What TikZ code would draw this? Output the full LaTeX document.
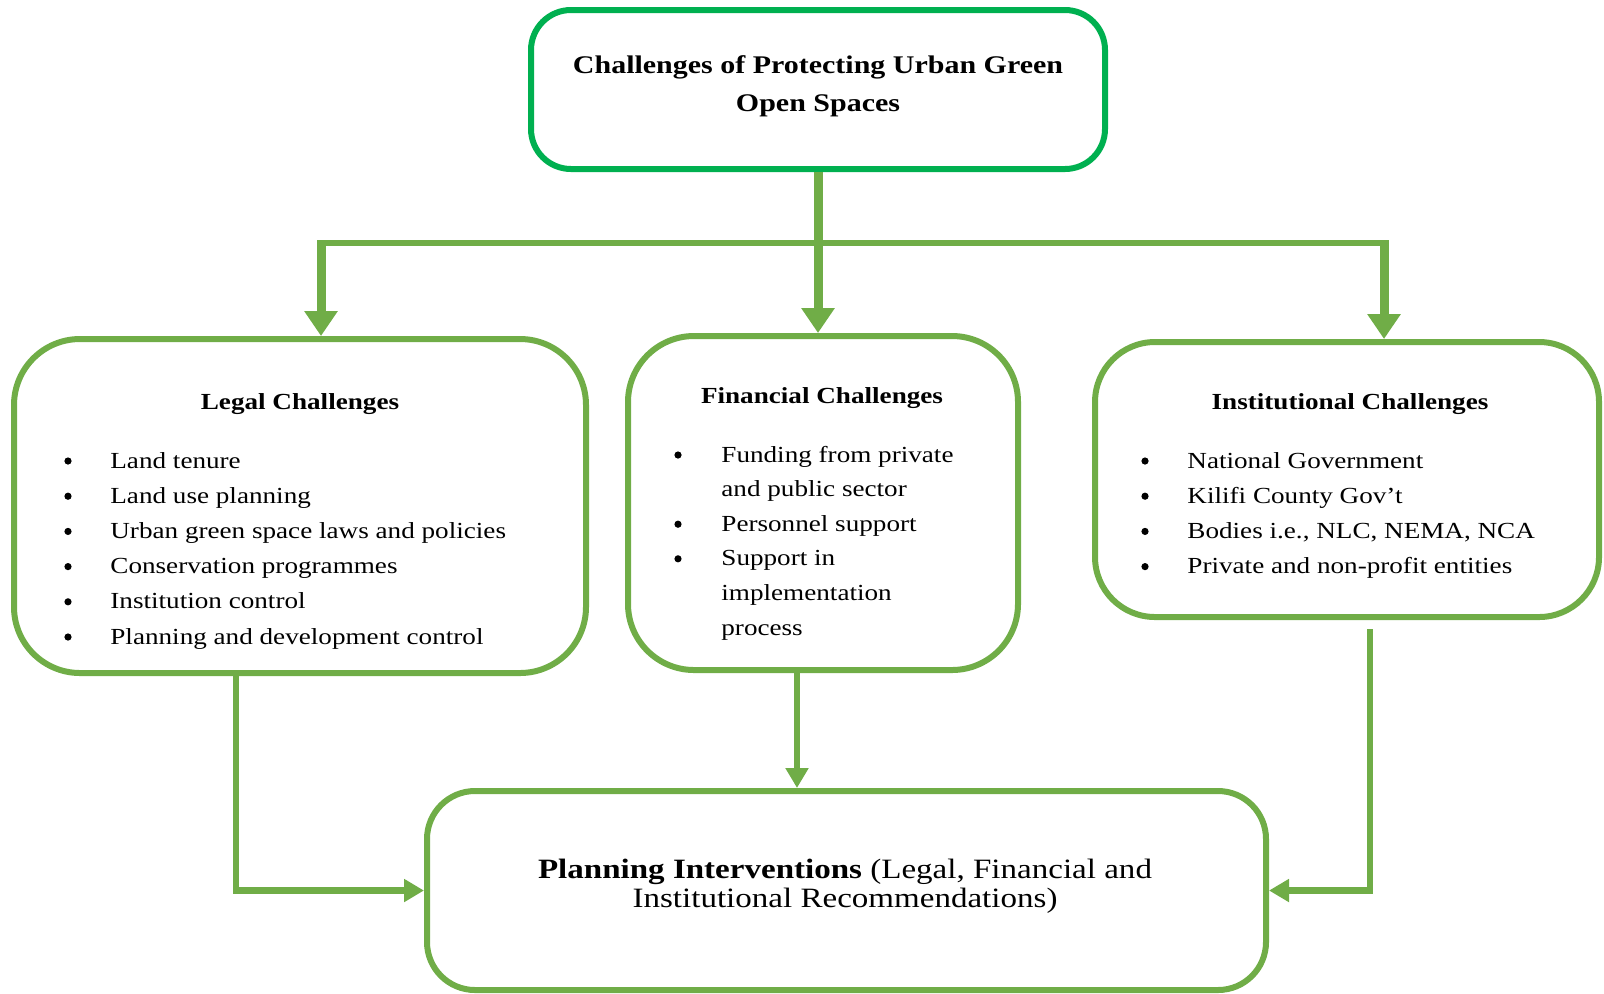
\documentclass[tikz,border=0pt]{standalone}
\usepackage{fontspec}
\setmainfont{Liberation Serif}[FakeStretch=1.18]
\usetikzlibrary{arrows.meta,calc}
\definecolor{topgreen}{HTML}{00B050}
\definecolor{boxgreen}{HTML}{70AD47}
\tikzset{
  box/.style={draw=boxgreen, line width=3pt, rounded corners=33pt, inner sep=0pt},
  drop/.style={draw=boxgreen, line width=4.5pt, -{Triangle[width=16pt,length=12.5pt]}},
  bar/.style={draw=boxgreen, line width=2.75pt},
  link/.style={draw=boxgreen, line width=3.25pt, -{Triangle[width=11pt,length=10pt]}},
  head/.style={font=\bfseries\fontsize{11.5}{14}\selectfont, inner sep=0pt, anchor=base},
  item/.style={font=\fontsize{11.5}{14}\selectfont, inner sep=0pt, anchor=base west},
  bul/.style={circle, fill=black, inner sep=0pt, minimum size=3.6pt},
}

\begin{document}
\begin{tikzpicture}[x=0.5pt, y=-0.5pt]
		%%%%% START %%%%%
		\useasboundingbox (0,0) rectangle (1604,993);
		
		\node[box, draw=topgreen, rounded corners=20pt, minimum width=287pt, minimum height=79.5pt] (top) at (818,89.5) {};
		\node[box, minimum width=286pt, minimum height=167pt] (legal) at (300,506) {};
		\node[box, minimum width=195pt, minimum height=167pt] (fin) at (823,503) {};
		\node[box, rounded corners=30pt, minimum width=252pt, minimum height=137.5pt] (inst) at (1347,479.5) {};
		\node[box, rounded corners=24pt, minimum width=419.5pt, minimum height=99.5pt] (plan) at (846.5,890.5) {};
		
		\node[font=\bfseries\fontsize{12.7}{19}\selectfont, align=center, inner sep=0pt] (title) at (818,86) {Challenges of Protecting Urban Green\\Open Spaces};
		
		\node[head] (legal-head) at (300,409) {Legal Challenges};
		\foreach \txt [count=\i from 0] in {Land tenure, Land use planning, Urban green space laws and policies, Conservation programmes, Institution control, Planning and development control}{
			\node[bul] (legal-b\i) at (68, 461+35.2*\i) {};
			\node[item] (legal-\i) at (110, 468+35.2*\i) {\txt};
		}
		
		\node[head] (fin-head) at (822,403) {Financial Challenges};
		\foreach \txt [count=\i from 0] in {Funding from private, and public sector, Personnel support, Support in, implementation, process}
			\node[item] (fin-\i) at (721, 462+34.6*\i) {\txt};
		\foreach \i in {0,2,3}
			\node[bul] (fin-b\i) at (678, 455+34.6*\i) {};
		
		\node[head] (inst-head) at (1350,409) {Institutional Challenges};
		\foreach \txt [count=\i from 0] in {National Government, Kilifi County Gov’t, {Bodies i.e., NLC, NEMA, NCA}, Private and non-profit entities}{
			\node[bul] (inst-b\i) at (1145, 461+35.2*\i) {};
			\node[item] (inst-\i) at (1187, 468+35.2*\i) {\txt};
		}
		
		\node[font=\fontsize{14}{14.5}\selectfont, align=center, inner sep=0pt] (plan-text) at (845,886.5) {\textbf{Planning Interventions} (Legal, Financial and\\Institutional Recommendations)};
		
		% arrows from the top
		\coordinate (barL) at (321,243);
		\coordinate (barR) at (1384,243);
		\draw[bar] (barL) -- (barR);
		\draw[drop] (top.south) -- (top.south |- fin.north);
		\draw[drop] ([yshift=1.5pt]barL) -- (barL |- legal.north);
		\draw[drop] ([yshift=1.5pt]barR) -- (barR |- inst.north);
		
		% arrows to the bottom
		\draw[link] ([xshift=-32pt]legal.south) |- (plan.west);
		\draw[link] ([xshift=-13pt]fin.south) -- ([xshift=-13pt]fin.south |- plan.north);
		\draw[link] ([xshift=11.5pt,yshift=-4.5pt]inst.south) |- (plan.east);
		%%%%% END %%%%%
\end{tikzpicture}
\end{document}
